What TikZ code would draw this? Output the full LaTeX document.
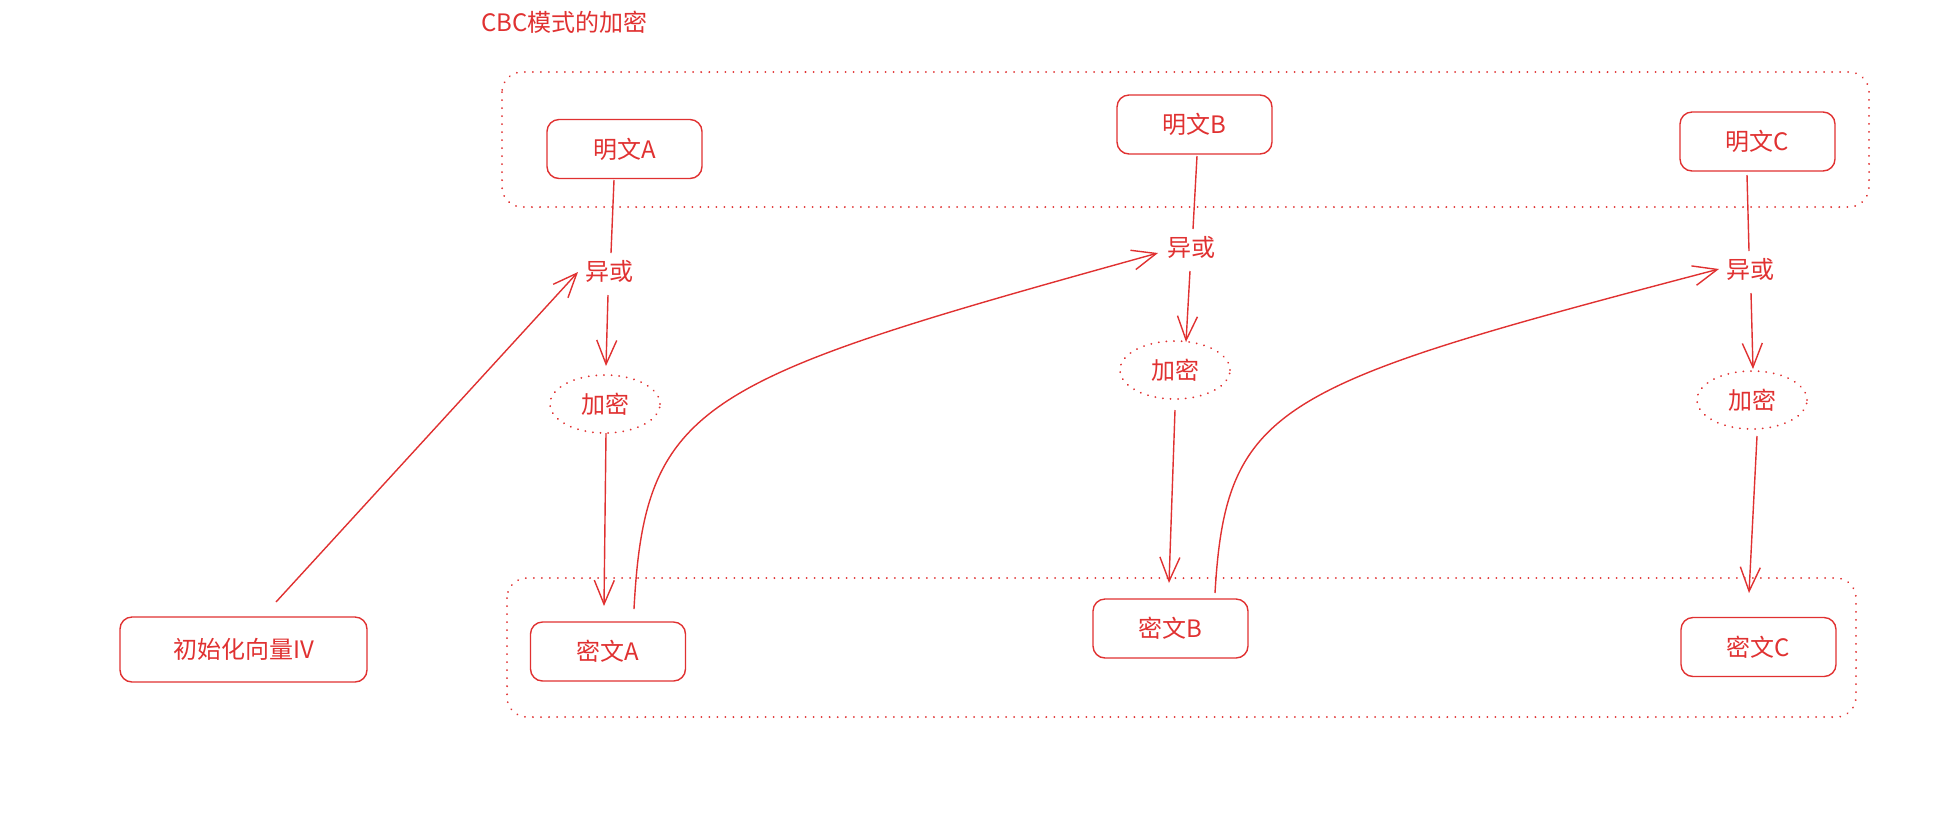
\documentclass[tikz,border=0pt]{standalone}
\usepackage{fontspec}
\setmainfont{Noto Sans CJK SC}
\usetikzlibrary{arrows.meta,calc,shapes.geometric}
\definecolor{exred}{HTML}{E03131}
\begin{document}
\begin{tikzpicture}[x=0.5pt,y=-0.5pt,
  every node/.style={text=exred, font=\fontsize{12pt}{14pt}\selectfont},
  box/.style={draw=exred, line width=0.7pt, rounded corners=6pt, minimum width=77.5pt, minimum height=29.5pt, inner sep=0pt},
  group/.style={draw=exred, line width=1pt, rounded corners=10pt, dash pattern=on 0.01pt off 4pt, line cap=round},
  enc/.style={ellipse, draw=exred, line width=1pt, dash pattern=on 0.01pt off 3.8pt, line cap=round, minimum width=55pt, minimum height=29pt, inner sep=0pt},
  xor/.style={inner sep=0pt},
  link/.style={draw=exred, line width=0.7pt},
  arr/.style={link, -{Straight Barb[length=12pt,width=10pt]}}]
\useasboundingbox (0,0) rectangle (1950,816);
% groups
\draw[group] (502,72) rectangle (1869,207);
\draw[group] (507,578) rectangle (1856,717);
% title
\node[anchor=west, inner sep=0pt] (title) at (481,22) {CBC模式的加密};
% boxes
\node[box] (mA) at (624.5,149) {明文A};
\node[box] (mB) at (1194.5,124.5) {明文B};
\node[box] (mC) at (1757.5,141.5) {明文C};
\node[box] (cA) at (608,651.5) {密文A};
\node[box] (cB) at (1170.5,628.5) {密文B};
\node[box] (cC) at (1758.5,647) {密文C};
\node[box, minimum width=123.5pt, minimum height=32.5pt] (iv) at (243.5,649.5) {初始化向量IV};
% xor labels
\node[xor] (xA) at (609,271) {异或};
\node[xor] (xB) at (1191,247) {异或};
\node[xor] (xC) at (1750,269) {异或};
% encrypt ellipses
\node[enc] (eA) at (605,404) {加密};
\node[enc] (eB) at (1175,370) {加密};
\node[enc] (eC) at (1752,400) {加密};
% column A
\draw[link] ($(mA)+(-10.5,31)$) -- ($(xA)+(2,-18)$);
\draw[arr] ($(xA)+(-1,24)$) -- ($(eA)+(1,-38)$);
\draw[arr] ($(eA)+(1,29)$) -- ($(cA)+(-4,-45.5)$);
\draw[arr] ($(iv)+(32.5,-47.5)$) -- ($(xA)+(-31,1)$);
\draw[arr] ($(cA)+(26,-42.5)$) .. controls +(11,-209) and +(-458,127) .. ($(xB)+(-33,6)$);
% column B
\draw[link] ($(mB)+(2.5,31.5)$) -- ($(xB)+(2,-18)$);
\draw[arr] ($(xB)+(-1,24)$) -- ($(eB)+(11,-28)$);
\draw[arr] ($(eB)+(0,40)$) -- ($(cB)+(-1.5,-45.5)$);
\draw[arr] ($(cB)+(44.5,-35.5)$) .. controls +(11,-190) and +(-441,116) .. ($(xC)+(-31,0)$);
% column C
\draw[link] ($(mC)+(-10.5,33.5)$) -- ($(xC)+(-1,-18)$);
\draw[arr] ($(xC)+(1,24)$) -- ($(eC)+(1,-31)$);
\draw[arr] ($(eC)+(5,36)$) -- ($(cC)+(-9.5,-54)$);
\end{tikzpicture}
\end{document}
